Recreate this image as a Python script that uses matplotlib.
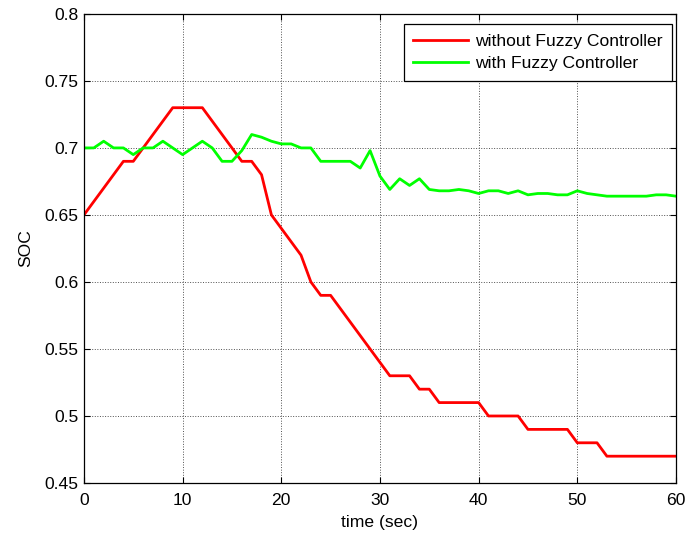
import numpy as np
import matplotlib
matplotlib.use("Agg")
from matplotlib import pyplot as plt

# time axis (sec), one sample per second
time_sec = np.arange(0, 61)

soc_without_fuzzy = [
  0.65, 0.66, 0.67, 0.68, 0.69, 0.69, 0.70, 0.71, 0.72, 0.73,
  0.73, 0.73, 0.73, 0.72, 0.71, 0.70, 0.69, 0.69, 0.68, 0.65,
  0.64, 0.63, 0.62, 0.60, 0.59, 0.59, 0.58, 0.57, 0.56, 0.55,
  0.54, 0.53, 0.53, 0.53, 0.52, 0.52, 0.51, 0.51, 0.51, 0.51,
  0.51, 0.50, 0.50, 0.50, 0.50, 0.49, 0.49, 0.49, 0.49, 0.49,
  0.48, 0.48, 0.48, 0.47, 0.47, 0.47, 0.47, 0.47, 0.47, 0.47,
  0.47]

soc_with_fuzzy = [
  0.700, 0.700, 0.705, 0.700, 0.700, 0.695, 0.700, 0.700, 0.705, 0.700,
  0.695, 0.700, 0.705, 0.700, 0.690, 0.690, 0.698, 0.710, 0.708, 0.705,
  0.703, 0.703, 0.700, 0.700, 0.690, 0.690, 0.690, 0.690, 0.685, 0.698,
  0.679, 0.669, 0.677, 0.672, 0.677, 0.669, 0.668, 0.668, 0.669, 0.668,
  0.666, 0.668, 0.668, 0.666, 0.668, 0.665, 0.666, 0.666, 0.665, 0.665,
  0.668, 0.666, 0.665, 0.664, 0.664, 0.664, 0.664, 0.664, 0.665, 0.665,
  0.664]

x_ticks = [0, 10, 20, 30, 40, 50, 60]
y_ticks = [0.45, 0.5, 0.55, 0.6, 0.65, 0.7, 0.75, 0.8]
y_tick_labels = ["0.45", "0.5", "0.55", "0.6", "0.65", "0.7", "0.75", "0.8"]

plt.rcParams["font.family"] = ["Liberation Sans", "DejaVu Sans"]
plt.rcParams["font.size"] = 12.6

fig = plt.figure(figsize=(6.88, 5.34), dpi=100)
ax = fig.add_axes([0.122, 0.0955, 0.8605, 0.8785])

ax.plot(time_sec, soc_without_fuzzy, color="#ff0000", linewidth=2,
        label="without Fuzzy Controller")
ax.plot(time_sec, soc_with_fuzzy, color="#00ff00", linewidth=2,
        label="with Fuzzy Controller")

ax.set_xlim(0, 60)
ax.set_ylim(0.45, 0.8)
ax.set_xticks(x_ticks)
ax.set_yticks(y_ticks)
ax.set_yticklabels(y_tick_labels)
ax.tick_params(direction="in", top=True, right=True, length=4, width=0.8)
ax.tick_params(axis="x", pad=7.5)
ax.tick_params(axis="y", pad=4)
ax.grid(True, linestyle=":", color="#505050", linewidth=0.7)
for spine in ax.spines.values():
  spine.set_linewidth(0.9)

ax.set_xlabel("time (sec)", labelpad=5)
ax.set_ylabel("SOC", labelpad=8)

legend = ax.legend(loc="upper right", bbox_to_anchor=(0.9932, 0.9787),
                   borderaxespad=0, fancybox=False, framealpha=1,
                   edgecolor="black", handlelength=3.1, handletextpad=0.4,
                   borderpad=0.55, labelspacing=0.42)
legend.get_frame().set_linewidth(0.9)

fig.savefig("out.png", dpi=100, facecolor="white")
